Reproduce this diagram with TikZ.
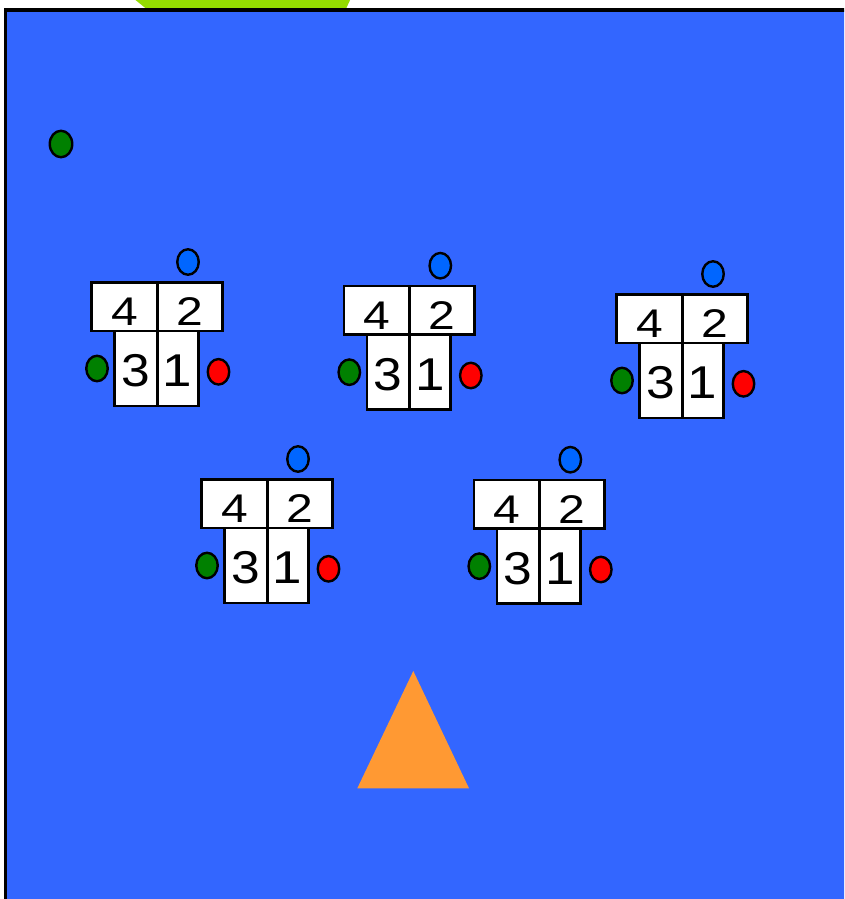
\documentclass[tikz,border=0pt]{standalone}
\usepackage{fontspec}
\setmainfont{Liberation Sans}
\usetikzlibrary{shapes.geometric}
\definecolor{bgblue}{HTML}{3366FF}
\definecolor{dotblue}{HTML}{0066FF}
\definecolor{dotgreen}{HTML}{008000}
\definecolor{dotred}{HTML}{FF0000}
\definecolor{conegold}{HTML}{FF9933}
\definecolor{limegreen}{HTML}{94DC00}
\tikzset{
  cell/.style={draw=black, fill=white, line width=2.6pt, inner sep=0pt, outer sep=0pt},
  dot/.style={ellipse, draw=black, line width=2.4pt, inner sep=0pt, minimum width=21.5pt, minimum height=25.5pt},
  topdigit/.style={anchor=base, inner sep=0pt, font=\fontsize{40}{40}\selectfont},
  botdigit/.style={anchor=base, inner sep=0pt, font=\fontsize{46}{46}\selectfont},
  unit/.pic={
    \node[cell, minimum width=65.5pt, minimum height=48.5pt] (-c4) at (32.75,24.25) {};
    \node[cell, minimum width=65pt, minimum height=48.5pt] (-c2) at (98,24.25) {};
    \node[cell, minimum width=42.5pt, minimum height=75pt] (-c3) at (44.25,86) {};
    \node[cell, minimum width=41pt, minimum height=75pt] (-c1) at (86,86) {};
    \node[topdigit] (-t4) at (32.75,43.5) {\scalebox{1.2}[1]{4}};
    \node[topdigit] (-t2) at (98,43.5) {\scalebox{1.2}[1]{2}};
    \node[botdigit] (-t3) at (44.25,104) {\scalebox{1.12}[1]{3}};
    \node[botdigit] (-t1) at (86,104) {\scalebox{1.15}[1]{1}};
    \node[dot, fill=dotblue] (-b) at (96.3,-20.3) {};
    \node[dot, fill=dotgreen] (-g) at (5.3,86.2) {};
    \node[dot, fill=dotred] (-r) at (126.8,89.5) {};
  }
}
\begin{document}
\begin{tikzpicture}[x=1pt,y=-1pt]
\useasboundingbox (0,0) rectangle (844,899);
\clip (0,0) rectangle (844,899);
\fill[white] (0,0) rectangle (844,899);
% lime shape peeking above the field
\fill[limegreen] (133,-2) -- (149,11) -- (345,11) -- (351,-2) -- cycle;
% field
\fill[bgblue] (5.6,9.8) rectangle (860,910);
\draw[line width=3.5pt, line cap=rect] (5.6,910) -- (5.6,9.8) -- (860,9.8);
% lone green marker
\node[dot, fill=dotgreen, minimum width=22.5pt, minimum height=26.5pt] (g0) at (61,144) {};
% units
\pic (A) at (91.7,282.3) {unit};
\pic (B) at (344,286) {unit};
\pic (C) at (616.7,294.3) {unit};
\pic (D) at (201.7,479.3) {unit};
\pic (E) at (474,480) {unit};
% cone
\fill[conegold] (413.3,671) -- (469,788.3) -- (357.3,788.3) -- cycle;
\end{tikzpicture}
\end{document}
